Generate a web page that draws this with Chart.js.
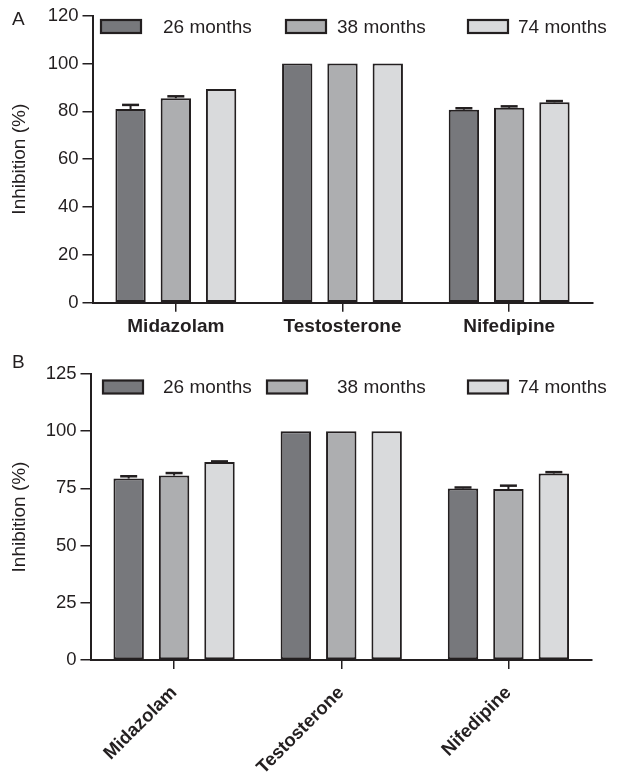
<!DOCTYPE html>
<html>
<head>
<meta charset="utf-8">
<script src="https://cdn.jsdelivr.net/npm/chart.js@4.4.1/dist/chart.umd.min.js"></script>
<style>
  body { margin: 0; background: #fff; }
  .panel { position: absolute; left: 0; width: 620px; }
  #panelA { top: 0; height: 335px; }
  #panelB { top: 335px; height: 444px; }
</style>
</head>
<body>
<div class="panel" id="panelA"><canvas id="chartA" width="620" height="335"></canvas></div>
<div class="panel" id="panelB"><canvas id="chartB" width="620" height="444"></canvas></div>
<script>
// data
const categories = ['Midazolam', 'Testosterone', 'Nifedipine'];
const seriesLabels = ['26 months', '38 months', '74 months'];

// panel A
const a26 = [81.0, 100, 80.7];
const a38 = [85.5, 100, 81.5];
const a74 = [89.3, 100, 83.8];
const a26Err = [1.7, 0, 0.6];
const a38Err = [0.8, 0, 0.6];
const a74Err = [0, 0, 0.5];
const ticksA = [0, 20, 40, 60, 80, 100, 120];

// panel B
const b26 = [79.3, 100, 75.0];
const b38 = [80.6, 100, 74.7];
const b74 = [86.5, 100, 81.5];
const b26Err = [1.0, 0, 0.4];
const b38Err = [1.1, 0, 1.5];
const b74Err = [0.3, 0, 0.6];
const ticksB = [0, 25, 50, 75, 100, 125];

const fillColors = ['#77787c', '#adaeb0', '#d9dadc'];
const ink = '#231f20';
const FONT = "'Liberation Sans', Arial, Helvetica, sans-serif";

// error bars (upper half only, like the original)
const errorBars = {
  id: 'errorBars',
  afterDatasetsDraw(chart) {
    const ctx = chart.ctx;
    const y = chart.scales.y;
    ctx.save();
    ctx.strokeStyle = ink;
    chart.data.datasets.forEach((ds, i) => {
      const meta = chart.getDatasetMeta(i);
      meta.data.forEach((bar, j) => {
        const e = ds.errors[j];
        if (!e) return;
        const yTop = y.getPixelForValue(ds.data[j] + e);
        ctx.lineWidth = 2;
        ctx.beginPath();
        ctx.moveTo(bar.x, bar.y);
        ctx.lineTo(bar.x, yTop);
        ctx.stroke();
        ctx.lineWidth = 2.5;
        ctx.beginPath();
        ctx.moveTo(bar.x - 8.5, yTop);
        ctx.lineTo(bar.x + 8.5, yTop);
        ctx.stroke();
      });
    });
    ctx.restore();
  }
};

// legend + panel letter drawn on top
const sideLegend = {
  id: 'sideLegend',
  afterDraw(chart, args, opts) {
    const ctx = chart.ctx;
    ctx.save();
    ctx.font = '19px ' + FONT;
    ctx.fillStyle = ink;
    ctx.textBaseline = 'middle';
    ctx.textAlign = 'left';
    ctx.fillText(opts.letter, opts.letterX, opts.letterY);
    chart.data.datasets.forEach((ds, i) => {
      const bx = opts.boxX[i];
      ctx.fillStyle = ds.backgroundColor;
      ctx.fillRect(bx, opts.y - 6.5, 40, 13);
      ctx.strokeStyle = ink;
      ctx.lineWidth = 2.2;
      ctx.strokeRect(bx, opts.y - 6.5, 40, 13);
      ctx.fillStyle = ink;
      ctx.fillText(ds.label, opts.textX[i], opts.y + 1);
    });
    ctx.restore();
  }
};

function makeDatasets(vals, errs) {
  return vals.map((v, i) => ({
    label: seriesLabels[i],
    data: v,
    errors: errs[i],
    backgroundColor: fillColors[i],
    borderColor: ink,
    borderWidth: 2,
    borderSkipped: false,
    barPercentage: 0.67,
    categoryPercentage: 0.815
  }));
}

function makeChart(id, vals, errs, ticks, geo) {
  return new Chart(document.getElementById(id), {
    type: 'bar',
    data: { labels: categories, datasets: makeDatasets(vals, errs) },
    options: {
      responsive: false,
      animation: false,
      layout: { padding: { left: 0, right: geo.right, top: geo.top, bottom: 0 } },
      plugins: {
        legend: { display: false },
        tooltip: { enabled: false },
        sideLegend: geo.legend
      },
      scales: {
        x: {
          afterFit(s) { s.height = geo.xHeight; },
          grid: { offset: false, drawOnChartArea: false, drawTicks: true, tickLength: 9, color: ink, lineWidth: 1.5 },
          border: { display: true, color: ink, width: 2 },
          ticks: {
            color: ink,
            font: { family: FONT, size: geo.xFont, weight: 'bold' },
            padding: geo.xPad,
            minRotation: geo.rot,
            maxRotation: geo.rot,
            autoSkip: false
          }
        },
        y: {
          min: ticks[0],
          max: ticks[ticks.length - 1],
          afterBuildTicks(s) { s.ticks = ticks.map(v => ({ value: v })); },
          afterFit(s) { s.width = geo.yWidth; },
          grid: { drawOnChartArea: false, drawTicks: true, tickLength: 10, color: ink, lineWidth: 1.5 },
          border: { display: true, color: ink, width: 2 },
          ticks: { color: ink, font: { family: FONT, size: 18.5 }, padding: 4 },
          title: {
            display: true,
            text: 'Inhibition (%)',
            color: ink,
            font: { family: FONT, size: 19 },
            padding: { top: 8.6, bottom: 0 }
          }
        }
      }
    },
    plugins: [errorBars, sideLegend]
  });
}

makeChart('chartA', [a26, a38, a74], [a26Err, a38Err, a74Err], ticksA, {
  right: 27.5, top: 15.7, xHeight: 32.3, yWidth: 92.5, xFont: 19, xPad: 4, rot: 0,
  legend: { letter: 'A', letterX: 12, letterY: 20, y: 26.5, boxX: [101, 286, 468], textX: [163, 337, 518] }
});

makeChart('chartB', [b26, b38, b74], [b26Err, b38Err, b74Err], ticksB, {
  right: 28, top: 39, xHeight: 119, yWidth: 90.5, xFont: 18.5, xPad: 13, rot: 45,
  legend: { letter: 'B', letterX: 12, letterY: 28, y: 52, boxX: [103, 267, 468], textX: [163, 337, 518] }
});
</script>
</body>
</html>
